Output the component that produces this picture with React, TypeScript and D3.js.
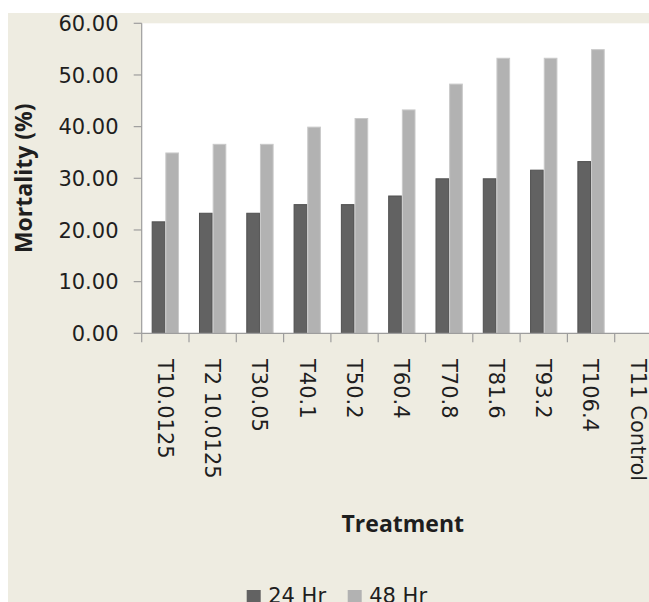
import React from "react";
import * as d3 from "d3";

// Mortality (%) per treatment, after 24 and 48 hours of exposure
const treatments = [
  "T1 0.0125",
  "T2 10.0125",
  "T3 0.05",
  "T4 0.1",
  "T5 0.2",
  "T6 0.4",
  "T7 0.8",
  "T8 1.6",
  "T9 3.2",
  "T10 6.4",
  "T11 Control",
];
const treatmentLabels = [
  "T10.0125",
  "T2 10.0125",
  "T30.05",
  "T40.1",
  "T50.2",
  "T60.4",
  "T70.8",
  "T81.6",
  "T93.2",
  "T106.4",
  "T11 Control",
];
const seriesNames = ["24 Hr", "48 Hr"];
const mortality24 = [21.67, 23.33, 23.33, 25.0, 25.0, 26.67, 30.0, 30.0, 31.67, 33.33, 0];
const mortality48 = [35.0, 36.67, 36.67, 40.0, 41.67, 43.33, 48.33, 53.33, 53.33, 55.0, 0];
const yTicks = [0, 10, 20, 30, 40, 50, 60];

const W = 649;
const H = 602;
const plotLeft = 141.7;
const plotTop = 23.3;
const plotBottom = 333.3;
const step = 47.3;

const BG = "#eeece1";
const AXIS = "#9d9d9d";
const TEXT = "#1e1e1e";
const fills = ["#626262", "#b2b2b2"];
const strokes = ["#505050", "#c9c9c9"];
const tickFont = "'DejaVu Sans', sans-serif";
const titleFont = "'Open Sans', sans-serif";

export default function App() {
  const x = d3
    .scaleBand<string>()
    .domain(treatments)
    .range([plotLeft, plotLeft + step * treatments.length])
    .paddingInner(0)
    .paddingOuter(0);
  const x1 = d3
    .scaleBand<string>()
    .domain(seriesNames)
    .range([0, x.bandwidth()])
    .paddingInner(0)
    .paddingOuter(0.73);
  const y = d3.scaleLinear().domain([0, 60]).range([plotBottom, plotTop]);

  const series = [mortality24, mortality48];
  const plotRight = plotLeft + step * treatments.length;

  return (
    <svg
      width={W}
      height={H}
      style={{ position: "absolute", left: 0, top: 0, display: "block" }}
    >
      <rect x={0} y={0} width={W} height={H} fill="#ffffff" />
      <rect x={8} y={13} width={W - 8} height={H - 13} fill={BG} />
      <rect
        x={plotLeft}
        y={plotTop}
        width={plotRight - plotLeft}
        height={plotBottom - plotTop}
        fill="#ffffff"
      />

      {/* bars */}
      {treatments.map((t, i) =>
        series.map((vals, s) => {
          const v = vals[i];
          if (v <= 0) return null;
          const bx = (x(t) ?? 0) + (x1(seriesNames[s]) ?? 0);
          const by = y(v);
          return (
            <rect
              key={`${t}-${s}`}
              x={bx + 0.5}
              y={by + 0.5}
              width={x1.bandwidth() - 1}
              height={plotBottom - by - 0.5}
              fill={fills[s]}
              stroke={strokes[s]}
              strokeWidth={1}
            />
          );
        })
      )}

      {/* y axis */}
      <line x1={plotLeft} x2={plotLeft} y1={plotTop} y2={plotBottom} stroke={AXIS} strokeWidth={1.2} />
      {yTicks.map((t) => (
        <g key={t}>
          <line x1={plotLeft - 8} x2={plotLeft} y1={y(t)} y2={y(t)} stroke={AXIS} strokeWidth={1.2} />
          <text
            x={118.5}
            y={y(t)}
            dy="0.36em"
            textAnchor="end"
            fontFamily={tickFont}
            fontSize={21}
            fill={TEXT}
          >
            {d3.format(".2f")(t)}
          </text>
        </g>
      ))}

      {/* x axis */}
      <line x1={plotLeft} x2={plotRight} y1={plotBottom} y2={plotBottom} stroke={AXIS} strokeWidth={1.2} />
      {treatments.map((t) => (
        <line
          key={t}
          x1={x(t) ?? 0}
          x2={x(t) ?? 0}
          y1={plotBottom}
          y2={plotBottom + 9}
          stroke={AXIS}
          strokeWidth={1.2}
        />
      ))}
      {treatments.map((t, i) => {
        const cx = (x(t) ?? 0) + x.bandwidth() / 2;
        return (
          <text
            key={t}
            transform={`translate(${cx},359) rotate(90)`}
            dy="0.36em"
            textAnchor="start"
            fontFamily={tickFont}
            fontSize={21}
            fill={TEXT}
          >
            {treatmentLabels[i]}
          </text>
        );
      })}

      {/* axis titles */}
      <text
        transform={`translate(31.7,${(plotTop + plotBottom) / 2}) rotate(-90)`}
        textAnchor="middle"
        fontFamily={titleFont}
        fontWeight="bold"
        fontSize={23}
        fill={TEXT}
      >
        Mortality (%)
      </text>
      <text
        x={402.8}
        y={532}
        textAnchor="middle"
        fontFamily={titleFont}
        fontWeight="bold"
        fontSize={23}
        fill={TEXT}
      >
        Treatment
      </text>

      {/* legend */}
      {seriesNames.map((name, s) => {
        const lx = [246.7, 347.7][s];
        return (
          <g key={name}>
            <rect x={lx} y={590} width={14} height={14} fill={fills[s]} />
            <text x={lx + 21.5} y={602.8} fontFamily={tickFont} fontSize={21} fill={TEXT}>
              {name}
            </text>
          </g>
        );
      })}
    </svg>
  );
}
